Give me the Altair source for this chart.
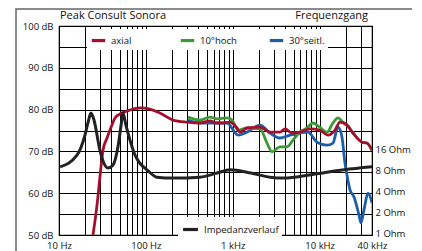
import altair as alt
import pandas as pd

FONT = "Open Sans"

# ---- data ----
axial_f = [24.6, 27.4, 29.6, 32.1, 35.7, 40.7, 44.1, 53.1, 65.6, 85.5, 111, 145, 205, 297, 420, 547, 658, 771, 929,
           1117, 1210, 1456, 2060, 2680, 3490, 3990, 4800, 5930, 7730, 10000, 12470, 15000, 17100, 20600, 24200,
           30700, 34900, 40000]
axial_db = [50, 57.2, 63.9, 70.3, 73.2, 76.3, 78.0, 79.2, 79.9, 80.4, 80.1, 79.2, 77.5, 77.0, 76.8, 77.3, 76.8, 76.8,
            77.0, 75.6, 74.6, 75.6, 75.8, 74.6, 74.6, 75.4, 74.4, 74.6, 75.4, 75.1, 73.9, 75.1, 77.0, 76.3, 74.4,
            72.2, 72.0, 70.3]

hoch_f = [305, 420, 547, 658, 858, 979, 1148, 1456, 2060, 2476, 2825, 3490, 4205, 4930, 5930, 7140, 8370, 10000,
          12130, 14220, 16250, 18540, 20600, 24200, 30700, 34900, 40000]
hoch_db = [78.2, 77.5, 78.2, 77.8, 78.0, 77.5, 75.1, 75.6, 75.4, 72.0, 69.9, 71.1, 71.1, 72.7, 74.6, 75.6, 76.8,
           75.8, 74.6, 76.8, 78.0, 77.0, 76.3, 74.4, 72.2, 72.0, 70.3]

seitl_f = [305, 420, 858, 1148, 1456, 2060, 2680, 3490, 4550, 5930, 7330, 9310, 12130, 14220, 16250, 18070, 19550,
           20600, 22330, 24820, 28330, 29870, 32330, 35980, 40000]
seitl_db = [77.5, 76.8, 76.8, 73.9, 74.6, 76.3, 74.4, 73.2, 73.9, 74.4, 74.6, 72.2, 71.5, 72.0, 75.8, 73.4, 67.2,
            64.4, 60.8, 59.1, 54.8, 52.9, 56.0, 60.0, 57.7]

imp_f = [10.3, 16.1, 19.9, 21.6, 23.3, 25.3, 29.6, 32.9, 36.6, 41.7, 47.7, 51.8, 54.5, 59, 65.6, 75, 85.4, 103,
         134, 205, 420, 658, 930, 1620, 2680, 3900, 7950, 19000, 40000]
imp_ohm = [9.6, 14.1, 27.5, 42, 57, 45, 16.6, 10.8, 9.2, 10.1, 18.7, 38, 57, 38, 23.3, 14.1, 10.8, 8.7,
           6.8, 6.6, 6.8, 7.8, 8.7, 7.8, 6.8, 6.6, 7.4, 8.7, 9.6]

series_names = ["axial", "10°hoch", "30°seitl."]
series_colors = ["#a50f2d", "#3b9a36", "#1c5fa8"]
imp_name = ["Impedanzverlauf"]

x_grid = [10, 20, 30, 40, 50, 60, 70, 80, 90,
          100, 200, 300, 400, 500, 600, 700, 800, 900,
          1000, 2000, 3000, 4000, 5000, 6000, 7000, 8000, 9000,
          10000, 20000, 30000, 40000]
x_label_vals = [10, 100, 1000, 10000, 40000]
x_label_txt = ["10 Hz", "100 Hz", "1 kHz", "10 kHz", "40 kHz"]
y_grid = [50, 55, 60, 65, 70, 75, 80, 85, 90, 95, 100]
ohm_ticks = [1, 2, 4, 8, 16]

title_left = "Peak Consult Sonora"
title_right = "Frequenzgang"

W, H = 313, 209

# ---- tables ----
def mk(f, v, name):
    return pd.DataFrame({"f": f, "db": v, "series": name})

df_ax = mk(axial_f, axial_db, series_names[0])
df_ho = mk(hoch_f, hoch_db, series_names[1])
df_se = mk(seitl_f, seitl_db, series_names[2])
df_imp = pd.DataFrame({"f": imp_f, "ohm": imp_ohm, "name": imp_name[0]})

xlab_expr = " : ".join(f"datum.value == {v} ? '{t}'" for v, t in zip(x_label_vals, x_label_txt)) + " : ''"

xscale = alt.Scale(type="log", domain=[10, 40000], nice=False)
yscale = alt.Scale(domain=[50, 100], nice=False, zero=False)

x_axis = alt.Axis(values=x_grid, labelExpr=xlab_expr, grid=True, gridColor="#000",
                  gridWidth=1, ticks=False, domain=False, labelOverlap=False,
                  labelPadding=5, labelFontSize=9.5, labelFlush=False)
y_axis = alt.Axis(values=y_grid, labelExpr="datum.value % 10 == 0 ? datum.value + ' dB' : ''",
                  grid=True, gridColor="#000", gridWidth=1.2, ticks=False, domain=False,
                  labelOverlap=False, labelPadding=6, labelFontSize=9.5)

x_enc = alt.X("f:Q", scale=xscale, title=None, axis=x_axis)
y_enc = alt.Y("db:Q", scale=yscale, title=None, axis=y_axis)

color_fr = alt.Color("series:N", scale=alt.Scale(domain=series_names, range=series_colors),
                     legend=alt.Legend(title=None, orient="none", legendX=28, legendY=3, direction="horizontal",
                                       symbolType="stroke", symbolStrokeWidth=3.2, symbolSize=180,
                                       labelFontSize=9.5, columnPadding=26, gridAlign="all",
                                       fillColor="white", padding=3, labelOffset=4))

def fr_layer(df):
    return alt.Chart(df).mark_line(strokeWidth=2.8, interpolate="monotone", clip=True).encode(
        x=x_enc, y=y_enc, color=color_fr,
    )

fr = alt.layer(fr_layer(df_se), fr_layer(df_ho), fr_layer(df_ax))

imp = alt.Chart(df_imp).mark_line(strokeWidth=3, interpolate="monotone", clip=True).encode(
    x=x_enc,
    y=alt.Y("ohm:Q", scale=alt.Scale(type="log", base=2, domain=[1, 1024], nice=False), title=None,
            axis=alt.Axis(orient="right", values=ohm_ticks, labelExpr="datum.value + ' Ohm'", grid=False,
                          ticks=False, domain=False, labelPadding=3, labelFontSize=9.5, labelOffset=-1.5)),
    color=alt.Color("name:N", scale=alt.Scale(domain=imp_name, range=["#222222"]),
                    legend=alt.Legend(title=None, orient="none", legendX=119, legendY=191,
                                      symbolType="stroke", symbolStrokeWidth=3.2, symbolSize=220,
                                      labelFontSize=9.5, fillColor="white", padding=3, labelOffset=4)),
)

one = pd.DataFrame({"t1": [title_left], "t2": [title_right]})
t_left = alt.Chart(one).mark_text(align="left", baseline="alphabetic", fontSize=11, font=FONT, color="#111").encode(
    x=alt.value(1), y=alt.value(-7), text="t1:N")
t_right = alt.Chart(one).mark_text(align="right", baseline="alphabetic", fontSize=11, font=FONT, color="#111").encode(
    x=alt.value(W - 4), y=alt.value(-7), text="t2:N")
frame = alt.Chart(one).mark_rect(filled=False, stroke="#666", strokeWidth=1.5).encode(
    x=alt.value(-43), x2=alt.value(356), y=alt.value(-17), y2=alt.value(240))

chart = alt.layer(frame, fr, imp, t_left, t_right).resolve_scale(
    color="independent", y="independent"
).properties(
    width=W, height=H,
    padding={"left": 51, "top": 18, "right": 40, "bottom": 16},
    autosize=alt.AutoSizeParams(type="none"),
).configure_view(stroke="#000", strokeWidth=1.2).configure_axis(
    labelFont=FONT, labelColor="#111"
).configure_legend(labelFont=FONT, labelColor="#111")

chart.save("out.html", embed_options={"renderer": "svg", "actions": False})
